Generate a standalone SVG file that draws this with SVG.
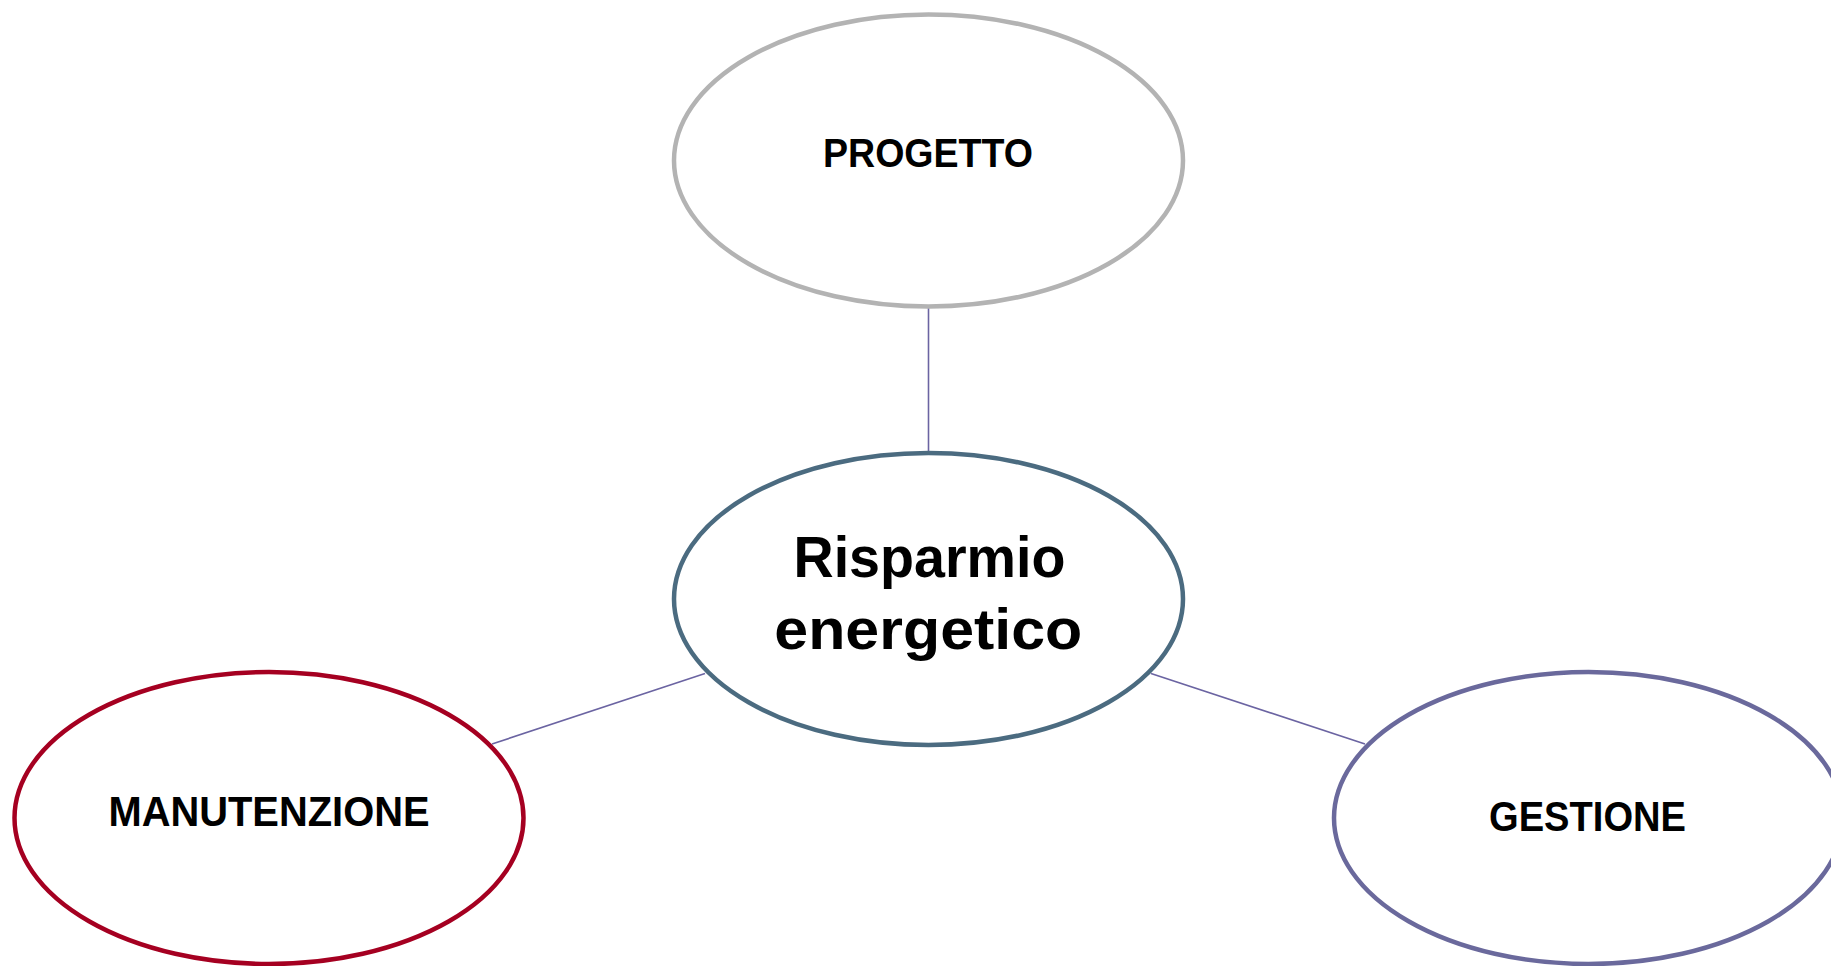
<svg xmlns="http://www.w3.org/2000/svg" width="1831" height="966" viewBox="0 0 1831 966">
<style>
.node{fill:#ffffff;stroke-width:4.5}
.lbl{font-family:"Liberation Sans",Arial,sans-serif;font-weight:bold;fill:#000000;text-anchor:middle}
.conn{stroke:#6b64a2;stroke-width:1.6;fill:none}
</style>
<rect width="1831" height="966" fill="#ffffff"/>
<g id="connectors">
<line class="conn" x1="928.5" y1="307" x2="928.5" y2="453"/>
<line class="conn" x1="705" y1="673.5" x2="492" y2="744"/>
<line class="conn" x1="1151" y1="673.5" x2="1365" y2="744"/>
</g>
<g id="progetto">
<ellipse class="node" cx="928.5" cy="160.5" rx="254.5" ry="146" stroke="#b3b3b3"/>
<text class="lbl" x="928" y="167" font-size="41" textLength="210" lengthAdjust="spacingAndGlyphs">PROGETTO</text>
</g>
<g id="risparmio">
<ellipse class="node" cx="928.5" cy="599" rx="254.5" ry="146" stroke="#4b6b80"/>
<text class="lbl" x="929.5" y="577" font-size="58" textLength="272" lengthAdjust="spacingAndGlyphs">Risparmio</text>
<text class="lbl" x="928.3" y="649" font-size="58" textLength="308" lengthAdjust="spacingAndGlyphs">energetico</text>
</g>
<g id="manutenzione">
<ellipse class="node" cx="269" cy="818" rx="254.5" ry="146" stroke="#a50021"/>
<text class="lbl" x="269" y="826" font-size="42" textLength="321" lengthAdjust="spacingAndGlyphs">MANUTENZIONE</text>
</g>
<g id="gestione">
<ellipse class="node" cx="1588.5" cy="818" rx="254.5" ry="146" stroke="#6a699c"/>
<text class="lbl" x="1587.5" y="831" font-size="42" textLength="197" lengthAdjust="spacingAndGlyphs">GESTIONE</text>
</g>
</svg>
